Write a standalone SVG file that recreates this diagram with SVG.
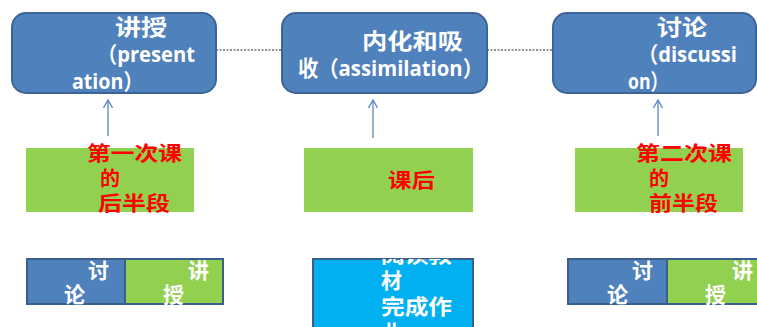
<svg xmlns="http://www.w3.org/2000/svg" width="757" height="327" viewBox="0 0 757 327">
<style>
.top{fill:#4f81bd;stroke:#3c6596;stroke-width:2}
.grn{fill:#92d050}
.wt{fill:#fff;font-family:"Open Sans","Noto Sans CJK SC",sans-serif;font-weight:bold;font-size:22px}
.rd{fill:#ff0000;font-family:"Noto Sans CJK SC",sans-serif;font-weight:bold;font-size:20px}
.bw{fill:#fff;font-family:"Noto Sans CJK SC",sans-serif;font-weight:bold;font-size:21px}
.arr{stroke:#5b86c0;stroke-width:1.3;fill:none}
.dash{stroke:#222;stroke-width:1;stroke-dasharray:2,1.5}
.cell{stroke:#3a5f8c;stroke-width:2}
</style>
<defs>
<marker id="ah" viewBox="0 0 10 10" refX="9" refY="5" markerWidth="10" markerHeight="10" markerUnits="userSpaceOnUse" orient="auto">
<path d="M1,0.5 L9,5 L1,9.5" fill="none" stroke="#5b86c0" stroke-width="1.3"/>
</marker>
<clipPath id="mclip"><rect x="313" y="259" width="160" height="70"/></clipPath>
</defs>
<g id="connectors">
<line class="dash" x1="216" y1="50" x2="282" y2="50"/>
<line class="dash" x1="487" y1="50" x2="553" y2="50"/>
<line class="arr" x1="108" y1="136" x2="108" y2="100" marker-end="url(#ah)"/>
<line class="arr" x1="373" y1="138" x2="373" y2="100" marker-end="url(#ah)"/>
<line class="arr" x1="658" y1="136" x2="658" y2="100" marker-end="url(#ah)"/>
</g>
<g id="n-presentation">
<rect class="top" x="12" y="13" width="204" height="80" rx="14"/>
<text class="wt" x="115" y="35" textLength="52" lengthAdjust="spacingAndGlyphs">讲授</text>
<text class="wt" x="97" y="62" textLength="98" lengthAdjust="spacingAndGlyphs">（present</text>
<text class="wt" x="72" y="89" textLength="71" lengthAdjust="spacingAndGlyphs">ation）</text>
</g>
<g id="n-assimilation">
<rect class="top" x="282" y="13" width="205" height="80" rx="14"/>
<text class="wt" x="362" y="49" textLength="101" lengthAdjust="spacingAndGlyphs">内化和吸</text>
<text class="wt" x="298" y="76" textLength="185" lengthAdjust="spacingAndGlyphs">收（assimilation）</text>
</g>
<g id="n-discussion">
<rect class="top" x="553" y="13" width="203" height="80" rx="14"/>
<text class="wt" x="657" y="35" textLength="50" lengthAdjust="spacingAndGlyphs">讨论</text>
<text class="wt" x="638" y="62" textLength="99" lengthAdjust="spacingAndGlyphs">（discussi</text>
<text class="wt" x="628" y="89" textLength="40" lengthAdjust="spacingAndGlyphs">on）</text>
</g>
<g id="n-first">
<rect class="grn" x="26" y="148" width="168" height="64"/>
<text class="rd" x="87" y="161" textLength="95" lengthAdjust="spacingAndGlyphs">第一次课</text>
<text class="rd" x="100" y="186">的</text>
<text class="rd" x="98" y="211" textLength="72" lengthAdjust="spacingAndGlyphs">后半段</text>
</g>
<g id="n-after">
<rect class="grn" x="304" y="148" width="169" height="64"/>
<text class="rd" x="388" y="188" textLength="47" lengthAdjust="spacingAndGlyphs">课后</text>
</g>
<g id="n-second">
<rect class="grn" x="575" y="148" width="168" height="64"/>
<text class="rd" x="636" y="161" textLength="96" lengthAdjust="spacingAndGlyphs">第二次课</text>
<text class="rd" x="649" y="186">的</text>
<text class="rd" x="649" y="211" textLength="69" lengthAdjust="spacingAndGlyphs">前半段</text>
</g>
<g id="n-left-bar">
<rect class="cell" x="27" y="259" width="98" height="45" fill="#4f81bd"/>
<rect class="cell" x="125" y="259" width="98" height="45" fill="#92d050"/>
<text class="bw" x="88" y="278">讨</text>
<text class="bw" x="64" y="302">论</text>
<text class="bw" x="188" y="278">讲</text>
<text class="bw" x="163" y="302">授</text>
</g>
<g id="n-homework">
<rect class="cell" x="313" y="259" width="160" height="80" fill="#00b0f0"/>
<g clip-path="url(#mclip)">
<text class="bw" x="381" y="262" textLength="71" lengthAdjust="spacingAndGlyphs">阅读教</text>
<text class="bw" x="381" y="288">材</text>
<text class="bw" x="381" y="314" textLength="71" lengthAdjust="spacingAndGlyphs">完成作</text>
<text class="bw" x="381" y="340">业</text>
</g>
</g>
<g id="n-right-bar">
<rect class="cell" x="568" y="259" width="99" height="45" fill="#4f81bd"/>
<rect class="cell" x="667" y="259" width="100" height="45" fill="#92d050"/>
<text class="bw" x="632" y="278">讨</text>
<text class="bw" x="607" y="302">论</text>
<text class="bw" x="732" y="278">讲</text>
<text class="bw" x="705" y="302">授</text>
</g>
</svg>
